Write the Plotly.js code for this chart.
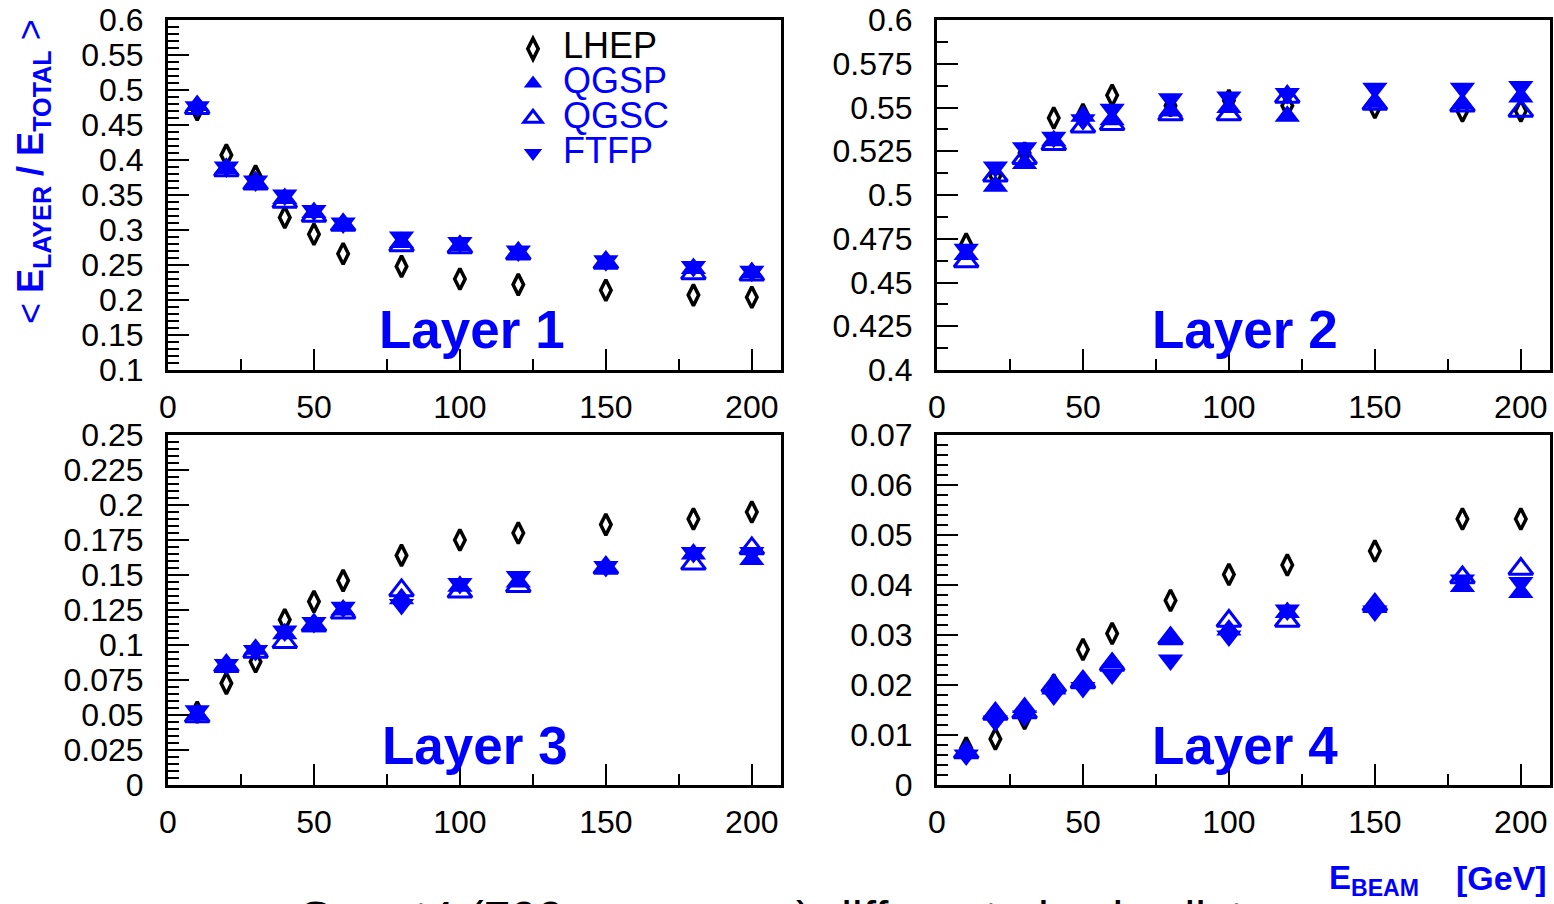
<!DOCTYPE html>
<html><head><meta charset="utf-8">
<script src="https://cdn.plot.ly/plotly-3.0.1.min.js"></script>
<style>html,body{margin:0;padding:0;background:#fff;overflow:hidden}#chart{width:1554px;height:904px}</style>
</head><body><div id="chart"></div>
<script>
// ---- data ----
const energies = [10, 20, 30, 40, 50, 60, 80, 100, 120, 150, 180, 200];

const layer1LHEP = [0.472, 0.407, 0.377, 0.318, 0.294, 0.266, 0.248, 0.230, 0.222, 0.214, 0.207, 0.204];
const layer1QGSP = [0.478, 0.388, 0.368, 0.345, 0.325, 0.308, 0.282, 0.278, 0.268, 0.255, 0.245, 0.239];
const layer1QGSC = [0.474, 0.385, 0.366, 0.340, 0.320, 0.307, 0.278, 0.275, 0.266, 0.253, 0.238, 0.236];
const layer1FTFP = [0.476, 0.390, 0.370, 0.350, 0.328, 0.310, 0.290, 0.282, 0.270, 0.256, 0.248, 0.241];

const layer2LHEP = [0.472, 0.511, 0.524, 0.544, 0.546, 0.557, 0.551, 0.554, 0.551, 0.550, 0.548, 0.548];
const layer2QGSP = [0.466, 0.505, 0.518, 0.531, 0.545, 0.543, 0.548, 0.550, 0.545, 0.553, 0.552, 0.556];
const layer2QGSC = [0.462, 0.511, 0.521, 0.529, 0.539, 0.5405, 0.546, 0.546, 0.556, 0.552, 0.551, 0.548];
const layer2FTFP = [0.469, 0.516, 0.527, 0.533, 0.543, 0.549, 0.555, 0.556, 0.558, 0.561, 0.561, 0.562];

const layer3LHEP = [0.052, 0.0726, 0.088, 0.118, 0.131, 0.146, 0.164, 0.175, 0.180, 0.186, 0.190, 0.195];
const layer3QGSP = [0.050, 0.084, 0.097, 0.108, 0.113, 0.125, 0.133, 0.142, 0.145, 0.155, 0.165, 0.161];
const layer3QGSC = [0.049, 0.085, 0.095, 0.102, 0.114, 0.123, 0.139, 0.138, 0.142, 0.155, 0.158, 0.169];
const layer3FTFP = [0.053, 0.086, 0.096, 0.110, 0.116, 0.127, 0.129, 0.144, 0.149, 0.156, 0.166, 0.166];

const layer4LHEP = [0.0074, 0.0092, 0.0133, 0.0200, 0.0271, 0.0303, 0.0369, 0.0421, 0.0440, 0.0468, 0.0532, 0.0532];
const layer4QGSP = [0.0065, 0.0145, 0.0155, 0.0192, 0.0210, 0.0245, 0.0295, 0.0310, 0.0345, 0.0355, 0.0397, 0.0385];
const layer4QGSC = [0.0065, 0.0142, 0.0145, 0.0198, 0.0205, 0.0240, 0.0293, 0.0328, 0.0328, 0.0360, 0.0415, 0.0432];
const layer4FTFP = [0.0060, 0.0128, 0.0138, 0.0180, 0.0195, 0.0222, 0.0250, 0.0298, 0.0350, 0.0348, 0.0410, 0.0405];

const listNames = ['LHEP', 'QGSP', 'QGSC', 'FTFP'];
const layerNames = ['Layer 1', 'Layer 2', 'Layer 3', 'Layer 4'];
const layers = [
  [layer1LHEP, layer1QGSP, layer1QGSC, layer1FTFP],
  [layer2LHEP, layer2QGSP, layer2QGSC, layer2FTFP],
  [layer3LHEP, layer3QGSP, layer3QGSC, layer3FTFP],
  [layer4LHEP, layer4QGSP, layer4QGSC, layer4FTFP]
];
const yRanges = [[0.1, 0.6], [0.4, 0.6], [0, 0.25], [0, 0.07]];
const yMajor = [0.05, 0.025, 0.025, 0.01];
const yMinor = [0.01, 0.0125, 0.005, 0.002];

// ---- styling ----
const W = 1554, H = 904;
const px = x => x / W, py = y => 1 - y / H;
const FONT = 'Liberation Sans, Arial, Helvetica, sans-serif';
const BLUE = '#0000ff';
const boxes = [
  {x0: 168, x1: 781, y0: 20, y1: 370},
  {x0: 937, x1: 1550, y0: 20, y1: 370},
  {x0: 168, x1: 781, y0: 435, y1: 785},
  {x0: 937, x1: 1550, y0: 435, y1: 785}
];
const styles = [
  {symbol: 'diamond-tall-open', color: '#000000', size: 15, lw: 3.5, lcolor: '#000000'},
  {symbol: 'triangle-up', color: BLUE, size: 22, lw: 0, lcolor: BLUE},
  {symbol: 'triangle-up-open', color: BLUE, size: 21, lw: 3, lcolor: BLUE},
  {symbol: 'triangle-down', color: BLUE, size: 22, lw: 0, lcolor: BLUE}
];
const legendLabels = listNames.map((n, k) =>
  '<span style="font-size:36px' + (k === 0 ? '' : ';color:#0000ff') + '">' + n + '</span>');

const traces = [];
layers.forEach((series, i) => {
  const ax = i === 0 ? '' : String(i + 1);
  series.forEach((vals, k) => {
    const s = styles[k];
    traces.push({
      type: 'scatter', mode: 'markers',
      x: energies, y: vals,
      xaxis: 'x' + ax, yaxis: 'y' + ax,
      name: legendLabels[k],
      showlegend: i === 0,
      cliponaxis: false,
      marker: {symbol: s.symbol, size: s.size, color: s.color,
               line: {width: s.lw, color: s.lcolor}}
    });
  });
});

const layout = {
  width: W, height: H,
  margin: {l: 0, r: 0, t: 0, b: 0},
  paper_bgcolor: '#ffffff', plot_bgcolor: '#ffffff',
  font: {family: FONT, color: '#000'},
  showlegend: true,
  legend: {x: px(503), y: py(26.5), xanchor: 'left', yanchor: 'top',
           bgcolor: 'rgba(0,0,0,0)', borderwidth: 0,
           font: {family: FONT, size: 24.4, color: '#000'},
           itemsizing: 'trace', itemwidth: 50, tracegroupgap: 0},
  annotations: []
};

boxes.forEach((b, i) => {
  const ax = i === 0 ? '' : String(i + 1);
  layout['xaxis' + ax] = {
    domain: [px(b.x0), px(b.x1)], range: [0, 210], anchor: 'y' + ax,
    showgrid: false, zeroline: false, showline: true, mirror: true,
    linewidth: 3, linecolor: '#000',
    ticks: 'inside', ticklen: 21, tickwidth: 2, tickcolor: '#000',
    tickmode: 'linear', tick0: 0, dtick: 50,
    minor: {ticks: 'inside', ticklen: 11, tickwidth: 2, tickcolor: '#000', tick0: 0, dtick: 25, showgrid: false},
    tickfont: {family: FONT, size: 32, color: '#000'},
    ticklabelstandoff: 7, fixedrange: true
  };
  layout['yaxis' + ax] = {
    domain: [py(b.y1), py(b.y0)], range: yRanges[i], anchor: 'x' + ax,
    showgrid: false, zeroline: false, showline: true, mirror: true,
    linewidth: 3, linecolor: '#000',
    ticks: 'inside', ticklen: 21, tickwidth: 2, tickcolor: '#000',
    tickmode: 'linear', tick0: yRanges[i][0], dtick: yMajor[i],
    minor: {ticks: 'inside', ticklen: 11, tickwidth: 2, tickcolor: '#000', tick0: yRanges[i][0], dtick: yMinor[i], showgrid: false},
    tickfont: {family: FONT, size: 32, color: '#000'},
    ticklabelstandoff: 15, fixedrange: true
  };
});

// layer labels
const layerPos = [[472, 330], [1245, 330], [475, 745], [1245, 745]];
layerNames.forEach((t, i) => {
  layout.annotations.push({
    text: '<b>' + t + '</b>', xref: 'paper', yref: 'paper',
    x: px(layerPos[i][0]), y: py(layerPos[i][1]), xanchor: 'center', yanchor: 'middle',
    showarrow: false, font: {family: FONT, size: 53, color: BLUE}
  });
});
// y axis title
layout.annotations.push({
  text: '&lt; <b>E<sub>LAYER</sub> / E<sub>TOTAL</sub></b> &gt;',
  xref: 'paper', yref: 'paper', x: px(33), y: py(172), xanchor: 'center', yanchor: 'middle',
  textangle: -90, showarrow: false, font: {family: FONT, size: 36, color: BLUE}
});
// x axis title
layout.annotations.push({
  text: '<b>E<sub>BEAM</sub></b>', xref: 'paper', yref: 'paper',
  x: px(1327), y: py(880), xanchor: 'left', yanchor: 'middle',
  showarrow: false, font: {family: FONT, size: 33, color: BLUE}
});
layout.annotations.push({
  text: '<b>[GeV]</b>', xref: 'paper', yref: 'paper',
  x: px(1454), y: py(878), xanchor: 'left', yanchor: 'middle',
  showarrow: false, font: {family: FONT, size: 34, color: BLUE}
});
// caption at the bottom of the page, cut off by the page edge as in the reference
layout.annotations.push({
  text: 'Geant4 (700 processes) different physics lists', xref: 'paper', yref: 'paper',
  x: px(295), y: py(890), xanchor: 'left', yanchor: 'top',
  showarrow: false, font: {family: FONT, size: 48, color: '#000'}
});

Plotly.newPlot('chart', traces, layout, {staticPlot: true, displayModeBar: false});
</script>
</body></html>
